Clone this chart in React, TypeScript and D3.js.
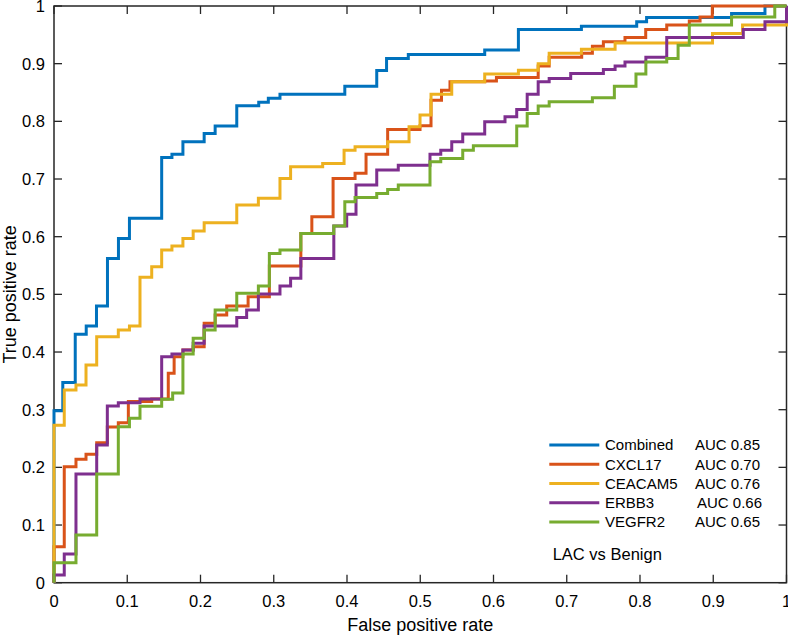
import React from "react";
import * as d3 from "d3";

type Pt = [number, number];

// Series (FPR, TPR) corner points; drawn as step-after curves
const combined: Pt[] = [
  [0, 0], [0, 0.298], [0.012, 0.347], [0.029, 0.431], [0.044, 0.445], [0.058, 0.48],
  [0.073, 0.562], [0.088, 0.597], [0.103, 0.632], [0.147, 0.7375], [0.161, 0.743],
  [0.176, 0.7645], [0.205, 0.779], [0.22, 0.792], [0.2495, 0.827], [0.2795, 0.833],
  [0.2926, 0.84], [0.3085, 0.847], [0.397, 0.861], [0.4406, 0.888], [0.454, 0.909],
  [0.4837, 0.916], [0.588, 0.9235], [0.634, 0.9594], [0.72, 0.965], [0.7955, 0.9726],
  [0.809, 0.98], [0.925, 0.987], [0.9706, 1.0], [1, 1],
];
const cxcl17: Pt[] = [
  [0, 0], [0, 0.0624], [0.014, 0.201], [0.03, 0.214], [0.0437, 0.2226], [0.0583, 0.2427],
  [0.0728, 0.27], [0.0878, 0.2774], [0.1015, 0.314], [0.1334, 0.3185], [0.156, 0.363],
  [0.164, 0.392], [0.176, 0.4034], [0.19, 0.409], [0.205, 0.4497], [0.22, 0.464],
  [0.2358, 0.48], [0.265, 0.4958], [0.294, 0.549], [0.337, 0.6057], [0.352, 0.6345],
  [0.381, 0.701], [0.411, 0.7098], [0.426, 0.743], [0.4555, 0.786], [0.4997, 0.7925],
  [0.5147, 0.8367], [0.529, 0.854], [0.5406, 0.8686], [0.588, 0.87], [0.604, 0.876],
  [0.661, 0.8958], [0.676, 0.911], [0.7204, 0.918], [0.735, 0.93], [0.75, 0.938],
  [0.7795, 0.9455], [0.8078, 0.9594], [0.8365, 0.967], [0.8673, 0.974], [0.882, 0.981],
  [0.8987, 1.0], [1, 1],
];
const ceacam5: Pt[] = [
  [0, 0], [0, 0.273], [0.014, 0.334], [0.03, 0.3428], [0.0437, 0.3774], [0.0583, 0.4265],
  [0.0878, 0.438], [0.103, 0.445], [0.1174, 0.5295], [0.1334, 0.548], [0.147, 0.577],
  [0.161, 0.5837], [0.176, 0.597], [0.19, 0.61], [0.205, 0.624], [0.2495, 0.655],
  [0.279, 0.6665], [0.3085, 0.701], [0.323, 0.7212], [0.3668, 0.727], [0.396, 0.75],
  [0.411, 0.756], [0.4555, 0.7645], [0.4847, 0.7906], [0.4997, 0.811], [0.5147, 0.847],
  [0.543, 0.8686], [0.588, 0.882], [0.634, 0.8886], [0.661, 0.9], [0.676, 0.918],
  [0.72, 0.925], [0.766, 0.936], [0.899, 0.9525], [0.94, 0.967], [0.984, 0.967], [1, 1],
];
const erbb3: Pt[] = [
  [0, 0], [0, 0.0133], [0.014, 0.0498], [0.03, 0.1885], [0.0583, 0.2387], [0.0728, 0.3063],
  [0.0878, 0.312], [0.1174, 0.3185], [0.147, 0.392], [0.161, 0.3965], [0.176, 0.4034],
  [0.19, 0.415], [0.205, 0.445], [0.2495, 0.46], [0.263, 0.473], [0.279, 0.5005],
  [0.3085, 0.5144], [0.323, 0.528], [0.337, 0.562], [0.382, 0.6184], [0.3996, 0.639],
  [0.4123, 0.6895], [0.4406, 0.7155], [0.47, 0.724], [0.5133, 0.743], [0.528, 0.75],
  [0.543, 0.7645], [0.558, 0.778], [0.588, 0.7993], [0.6157, 0.808], [0.6317, 0.8207],
  [0.646, 0.847], [0.661, 0.8686], [0.676, 0.8745], [0.7054, 0.883], [0.75, 0.89],
  [0.766, 0.8958], [0.7795, 0.903], [0.808, 0.911], [0.8365, 0.9455], [0.941, 0.9594],
  [0.9706, 0.9726], [1, 1],
];
const vegfr2: Pt[] = [
  [0, 0], [0, 0.0347], [0.03, 0.0827], [0.0583, 0.1885], [0.0878, 0.2705], [0.103, 0.285],
  [0.1174, 0.306], [0.147, 0.318], [0.162, 0.329], [0.176, 0.3965], [0.19, 0.4237],
  [0.205, 0.438], [0.22, 0.473], [0.2495, 0.5017], [0.279, 0.5144], [0.294, 0.571],
  [0.3085, 0.577], [0.337, 0.6057], [0.382, 0.6184], [0.397, 0.6605], [0.411, 0.668],
  [0.4406, 0.675], [0.4555, 0.682], [0.47, 0.6895], [0.5133, 0.73], [0.528, 0.7357],
  [0.558, 0.75], [0.5725, 0.7577], [0.6317, 0.7918], [0.646, 0.8138], [0.661, 0.8265],
  [0.676, 0.834], [0.735, 0.841], [0.765, 0.861], [0.7945, 0.882], [0.808, 0.903],
  [0.8365, 0.909], [0.852, 0.932], [0.8673, 0.967], [0.925, 0.981], [0.984, 1.0], [1, 1],
];

const seriesNames = ["Combined", "CXCL17", "CEACAM5", "ERBB3", "VEGFR2"];
const seriesAUC = ["AUC 0.85", "AUC 0.70", "AUC 0.76", "AUC 0.66", "AUC 0.65"];
const seriesData = [combined, cxcl17, ceacam5, erbb3, vegfr2];
const seriesColors = ["#0072BD", "#D95319", "#EDB120", "#7E2F8E", "#77AC30"];

const xTicks = [0, 0.1, 0.2, 0.3, 0.4, 0.5, 0.6, 0.7, 0.8, 0.9, 1];
const yTicks = [0, 0.1, 0.2, 0.3, 0.4, 0.5, 0.6, 0.7, 0.8, 0.9, 1];
const xLabel = "False positive rate";
const yLabel = "True positive rate";
const annotation = "LAC vs Benign";

const W = 788;
const H = 635;
const left = 54;
const right = 786.5;
const top = 6;
const bottom = 582.7;
const font = "'Liberation Sans', Arial, Helvetica, sans-serif";
const axisColor = "#262626";

export default function App() {
  const x = d3.scaleLinear().domain([0, 1]).range([left, right]);
  const y = d3.scaleLinear().domain([0, 1]).range([bottom, top]);
  const line = d3
    .line<Pt>()
    .x((d) => x(d[0]))
    .y((d) => y(d[1]))
    .curve(d3.curveStepAfter);
  const fmt = (v: number) => (v === 0 ? "0" : v === 1 ? "1" : d3.format(".1f")(v));
  const tickLen = 8;

  return (
    <div style={{ position: "absolute", left: 0, top: 0 }}>
      <svg width={W} height={H} style={{ display: "block", background: "#fff" }}>
        <rect x={0} y={0} width={W} height={H} fill="#fff" />
        {/* box */}
        <rect x={left} y={top} width={right - left} height={bottom - top} fill="none" stroke={axisColor} strokeWidth={1.5} />
        {/* x ticks */}
        {xTicks.map((t) => (
          <g key={"x" + t}>
            <line x1={x(t)} x2={x(t)} y1={bottom} y2={bottom - tickLen} stroke={axisColor} strokeWidth={1.3} />
            <line x1={x(t)} x2={x(t)} y1={top} y2={top + tickLen} stroke={axisColor} strokeWidth={1.3} />
            <text x={x(t)} y={607} textAnchor="middle" fontFamily={font} fontSize={16.5} fill="#000">
              {fmt(t)}
            </text>
          </g>
        ))}
        {/* y ticks */}
        {yTicks.map((t) => (
          <g key={"y" + t}>
            <line x1={left} x2={left + tickLen} y1={y(t)} y2={y(t)} stroke={axisColor} strokeWidth={1.3} />
            <line x1={right} x2={right - tickLen} y1={y(t)} y2={y(t)} stroke={axisColor} strokeWidth={1.3} />
            <text x={45} y={y(t)} dy="0.36em" textAnchor="end" fontFamily={font} fontSize={16.5} fill="#000">
              {fmt(t)}
            </text>
          </g>
        ))}
        {/* curves */}
        {seriesData.map((d, i) => (
          <path key={seriesNames[i]} d={line(d) || ""} fill="none" stroke={seriesColors[i]} strokeWidth={3} strokeLinejoin="miter" />
        ))}
        {/* axis labels */}
        <text x={(left + right) / 2} y={631} textAnchor="middle" fontFamily={font} fontSize={18} fill="#000">
          {xLabel}
        </text>
        <text
          transform={`translate(15.5, ${(top + bottom) / 2}) rotate(-90)`}
          textAnchor="middle"
          fontFamily={font}
          fontSize={18}
          fill="#000"
        >
          {yLabel}
        </text>
        {/* legend */}
        {seriesNames.map((n, i) => {
          const ly = 445 + i * 19.25;
          return (
            <g key={"lg" + n}>
              <line x1={549.3} x2={599.3} y1={ly} y2={ly} stroke={seriesColors[i]} strokeWidth={3} />
              <text x={605} y={ly} dy="0.36em" fontFamily={font} fontSize={15} fill="#000">
                {n}
              </text>
              <text x={n === "ERBB3" ? 697 : 695} y={ly} dy="0.36em" fontFamily={font} fontSize={15} fill="#000">
                {seriesAUC[i]}
              </text>
            </g>
          );
        })}
        <text x={552.7} y={560} fontFamily={font} fontSize={16.5} fill="#000">
          {annotation}
        </text>
      </svg>
    </div>
  );
}
